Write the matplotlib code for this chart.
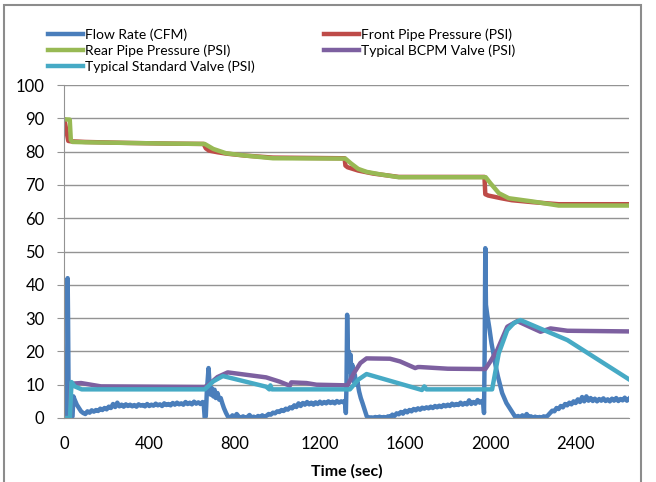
import numpy as np
import matplotlib.pyplot as plt
from matplotlib.patches import Rectangle

plt.rcParams['font.family'] = ['Lato', 'DejaVu Sans']

# Flow Rate (CFM)
flow_t = [0, 10, 14, 17, 19, 22, 25, 30, 40, 44, 50, 60, 70, 80, 90,
          100, 110, 120, 130, 140, 150, 160, 170, 180, 190, 200, 210, 220, 230, 240,
          250, 260, 270, 280, 290, 300, 310, 320, 330, 340, 350, 360, 370, 380, 390,
          400, 410, 420, 430, 440, 450, 460, 470, 480, 490, 500, 510, 520, 530, 540,
          550, 560, 570, 580, 590, 600, 610, 620, 630, 640, 650, 655,
          660, 665, 670, 678, 683, 688, 693, 700, 706, 712, 720, 728, 735, 742, 750,
          760, 770, 780, 790, 800, 810, 820, 830, 840, 850, 860, 870, 880, 890, 900,
          910, 920, 930, 940, 950, 960, 970, 980, 990, 1000, 1010, 1020, 1030, 1040,
          1050, 1060, 1070, 1080, 1090, 1100, 1110, 1120, 1130, 1140, 1150, 1160, 1170,
          1180, 1190, 1200, 1210, 1220, 1230, 1240, 1250, 1260, 1270, 1280, 1290, 1300,
          1310, 1318,
          1322, 1325, 1328, 1332, 1336, 1340, 1344, 1348, 1352, 1358, 1364, 1370, 1376,
          1384, 1392, 1400, 1410, 1420, 1430, 1440, 1450, 1460, 1470, 1480, 1490, 1500,
          1510, 1520, 1530, 1540, 1550, 1560, 1570, 1580, 1590, 1600, 1610, 1620, 1630,
          1640, 1650, 1660, 1670, 1680, 1690, 1700, 1710, 1720, 1730, 1740, 1750, 1760,
          1770, 1780, 1790, 1800, 1810, 1820, 1830, 1840, 1850, 1860, 1870, 1880, 1890,
          1900, 1910, 1920, 1930, 1940, 1950, 1960, 1966,
          1970, 1973, 1976, 1979, 1985, 1995, 2005, 2015, 2025, 2035, 2045, 2055, 2065,
          2075, 2085, 2095, 2105, 2115, 2120, 2130, 2140, 2150, 2160, 2170, 2180, 2190,
          2200, 2210, 2220, 2230, 2240, 2250, 2260, 2270, 2280, 2290, 2300, 2310, 2320,
          2330, 2340, 2350, 2360, 2370, 2380, 2390, 2400, 2410, 2420, 2430, 2440, 2450,
          2460, 2470, 2480, 2490, 2500, 2510, 2520, 2530, 2540, 2550, 2560, 2570, 2580,
          2590, 2600, 2610, 2620, 2630, 2640, 2650]
flow_v = [0, 0.5, 3, 42, 30, 3, 1, 0.5, 0.5, 6.5, 5.5, 4, 3, 2, 1.5,
          1.2, 2.0, 1.6, 2.3, 1.9, 2.4, 2.1, 2.8, 2.4, 3.0, 2.6, 3.4, 3.0, 4.2, 3.3,
          4.6, 3.5, 4.0, 3.4, 4.1, 3.6, 4.0, 3.5, 3.9, 3.4, 4.1, 3.7, 3.9, 3.5, 4.2,
          3.6, 4.0, 3.7, 4.3, 3.8, 4.1, 3.6, 4.4, 3.9, 4.2, 3.8, 4.5, 4.0, 4.6, 4.1,
          4.4, 4.0, 4.8, 4.2, 4.6, 4.1, 4.9, 4.3, 4.7, 4.2, 4.8, 4.5,
          0, 0.5, 8, 15, 10, 7, 9, 6.5, 8.5, 6, 7.5, 5.5, 6, 4.5, 3,
          1.5, 0.3, 0, 0.8, 0.2, 1.2, 0.4, 0.1, 0.5, 0, 0.3, 0.9, 0.1, 0.4, 0,
          0.6, 0.2, 0.8, 0.3, 0.7, 1.2, 1.0, 1.6, 1.4, 2.0, 1.8, 2.4, 2.1, 2.8,
          2.5, 3.2, 2.9, 3.8, 3.3, 4.4, 3.6, 4.5, 4.0, 4.8, 4.1, 4.6, 4.0,
          4.7, 4.2, 4.9, 4.3, 4.8, 4.4, 5.0, 4.5, 4.9, 4.4, 5.1, 4.6, 5.0,
          4.7, 5.2,
          1.5, 10, 31, 18, 20, 14, 19, 12, 16, 11, 13, 10, 11,
          8, 6, 4.5, 2.5, 0.5, 0, 0.2, 0, 0.3, 0.1, 0.4, 0, 0.3,
          0.1, 0.5, 0.3, 1.0, 0.6, 1.4, 1.1, 1.8, 1.3, 2.2, 1.7, 2.4, 2.0,
          2.7, 2.3, 2.9, 2.5, 3.1, 2.8, 3.2, 2.9, 3.4, 3.0, 3.6, 3.2, 3.7,
          3.3, 3.9, 3.5, 4.0, 3.6, 4.3, 3.8, 4.2, 3.9, 4.6, 4.0, 4.5, 4.1,
          5.3, 4.2, 4.8, 4.3, 5.4, 4.6, 5.1, 4.8,
          1.5, 20, 51, 34, 31, 27, 22.5, 19, 15.5, 12.5, 10, 7.5, 6,
          4.5, 3.5, 2.5, 1.5, 0.5, 0, 0.6, 0.1, 0.8, 0.2, 1.2, 0.3, 0.5,
          0.1, 0.4, 0, 0.3, 0.1, 0.5, 0.2, 0.8, 1.5, 2.2, 2.0, 3.0, 2.7,
          3.6, 3.2, 4.2, 3.8, 4.6, 4.1, 5.0, 4.5, 5.6, 4.8, 6.3, 5.0, 6.5,
          5.2, 6.0, 5.1, 5.8, 5.0, 5.7, 5.2, 5.9, 5.1, 5.6, 5.0, 5.8, 5.2,
          6.0, 5.1, 5.7, 5.3, 6.1, 5.2, 5.8]

# Front Pipe Pressure (PSI)
front_t = [0, 5, 12, 20, 30, 100, 300, 500, 655, 665, 680, 720, 760, 850, 980,
           1316, 1320, 1330, 1380, 1450, 1570, 1972, 1976, 1990, 2050, 2100, 2200,
           2320, 2650]
front_v = [89.5, 88.5, 86, 83.2, 83.1, 82.9, 82.6, 82.4, 82.3, 81.0, 80.3, 79.8,
           79.4, 78.8, 78.2, 78.0, 75.8, 75.3, 74.3, 73.4, 72.4, 72.4, 67.2, 66.8,
           66.0, 65.4, 64.8, 64.2, 64.2]

# Rear Pipe Pressure (PSI)
rear_t = [0, 27, 32, 40, 100, 300, 500, 660, 700, 760, 850, 980, 1320, 1345, 1380,
          1420, 1480, 1570, 1978, 2000, 2040, 2086, 2200, 2320, 2650]
rear_v = [89.7, 89.6, 83.5, 82.9, 82.8, 82.6, 82.4, 82.3, 80.8, 79.5, 78.8, 78.0,
          77.9, 76.5, 74.8, 73.9, 73.2, 72.3, 72.3, 70.5, 67.5, 66.0, 65.0, 63.8, 63.8]

# Typical BCPM Valve (PSI)
bcpm_t = [0, 28, 33, 80, 173, 660, 682, 720, 768, 948, 1012, 1059, 1066, 1137, 1184,
          1330, 1360, 1390, 1419, 1529, 1576, 1647, 1660, 1670, 1800, 1976, 2000,
          2032, 2079, 2126, 2180, 2235, 2282, 2361, 2650]
bcpm_v = [0, 0, 10.3, 10.5, 9.5, 9.3, 10.2, 12.3, 13.7, 12.2, 10.9, 9.7, 10.7, 10.5,
          10.0, 9.8, 13.5, 16.5, 17.9, 17.8, 17.0, 15.0, 15.3, 15.3, 14.8, 14.7, 17.0,
          20.4, 27.4, 29.1, 27.5, 25.9, 26.9, 26.2, 26.0]

# Typical Standard Valve (PSI)
std_t = [0, 28, 35, 50, 83, 660, 700, 745, 948, 963, 968, 975, 1322, 1341, 1380,
         1419, 1679, 1690, 1700, 2008, 2039, 2079, 2110, 2141, 2361, 2655]
std_v = [0, 0, 10.8, 9.5, 8.6, 8.6, 11.0, 12.6, 9.4, 8.6, 9.8, 8.6, 8.6, 8.6, 11.5,
         13.2, 8.4, 9.5, 8.6, 8.6, 19.4, 26.4, 28.5, 29.4, 23.4, 11.4]

x_ticks = [0, 400, 800, 1200, 1600, 2000, 2400]

fig = plt.figure(figsize=(6.56, 4.82), dpi=100)
ax = fig.add_axes([64/656, 1-418/482, (629-64)/656, (418-85)/482])

lw = 3.2
l_flow, = ax.plot(flow_t, flow_v, color='#4A7EBB', lw=lw, label='Flow Rate (CFM)')
l_front, = ax.plot(front_t, front_v, color='#BE4B48', lw=lw, label='Front Pipe Pressure (PSI)')
l_rear, = ax.plot(rear_t, rear_v, color='#98B954', lw=lw, label='Rear Pipe Pressure (PSI)')
l_bcpm, = ax.plot(bcpm_t, bcpm_v, color='#7D60A0', lw=lw, label='Typical BCPM Valve (PSI)')
l_std, = ax.plot(std_t, std_v, color='#46AAC5', lw=lw, label='Typical Standard Valve (PSI)')

ax.set_xlim(0, 2650)
ax.set_ylim(0, 100)
ax.set_yticks(range(0, 101, 10))
ax.set_xticks(x_ticks)
ax.grid(axis='y', color='#939393', lw=1)
ax.set_axisbelow(True)
for s in ['top', 'right']:
    ax.spines[s].set_visible(False)
ax.spines['left'].set_color('#939393')
ax.spines['bottom'].set_color('#939393')
ax.tick_params(axis='y', length=5, color='#939393', labelsize=12, pad=9)
ax.tick_params(axis='x', length=0, labelsize=12, pad=13)
ax.set_xlabel('Time (sec)', fontsize=11.5, fontweight='bold', labelpad=9)

fig.legend(handles=[l_flow, l_rear, l_std, l_front, l_bcpm], loc='upper left',
           bbox_to_anchor=(48/656, 1-28/482), ncol=2, frameon=False, fontsize=10,
           handlelength=2.5, handletextpad=0.15, columnspacing=5.0, labelspacing=0.25,
           borderaxespad=0, borderpad=0)

fig.patches.append(Rectangle((4/656, -0.1), 637/656, 1.1 - 5/482, transform=fig.transFigure,
                             fill=False, edgecolor='#8c8c8c', lw=1.5))

fig.savefig('out.png', dpi=100)
